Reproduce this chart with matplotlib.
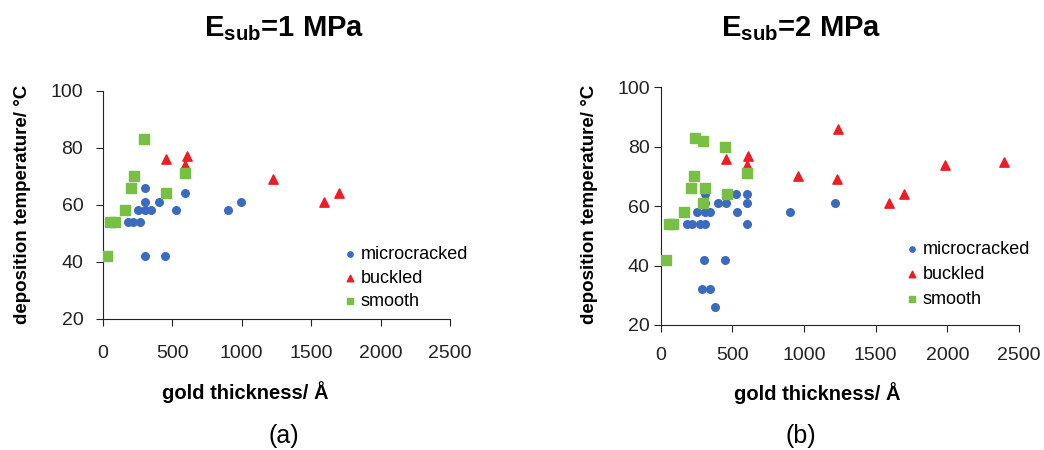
import matplotlib
matplotlib.use("Agg")
import matplotlib.pyplot as plt

plt.rcParams['font.family'] = ['Liberation Sans', 'DejaVu Sans']
plt.rcParams['mathtext.fontset'] = 'custom'
plt.rcParams['mathtext.bf'] = 'Liberation Sans:bold'
plt.rcParams['mathtext.rm'] = 'Liberation Sans'

# --- dados: E_sub = 1 MPa ---
micro1_x = [185, 216, 268, 252, 305, 348, 305, 305, 403, 525, 595, 305, 448, 904, 993]
micro1_y = [54, 54, 54, 58, 58, 58, 61, 66, 61, 58, 64, 42, 42, 58, 61]
buck1_x = [456, 604, 595, 1223, 1595, 1698]
buck1_y = [76, 77, 74, 69, 61, 64]
smooth1_x = [29, 55, 89, 158, 206, 225, 297, 456, 595]
smooth1_y = [42, 54, 54, 58, 66, 70, 83, 64, 71]

# --- dados: E_sub = 2 MPa ---
micro2_x = [181, 216, 274, 309, 251, 309, 344, 309, 309, 309, 402, 456, 523, 530,
            600, 600, 600, 305, 446, 286, 344, 379, 902, 1214]
micro2_y = [54, 54, 54, 54, 58, 58, 58, 61, 64, 66, 61, 61, 64, 58,
            64, 61, 54, 42, 42, 32, 32, 26, 58, 61]
buck2_x = [456, 607, 600, 960, 1228, 1240, 1593, 1700, 1984, 2395]
buck2_y = [76, 77, 74, 70, 69, 86, 61, 64, 74, 75]
smooth2_x = [37, 60, 88, 163, 209, 233, 240, 298, 309, 293, 451, 460, 600]
smooth2_y = [42, 54, 54, 58, 66, 70, 83, 82, 66, 61, 80, 64, 71]

xticks = [0, 500, 1000, 1500, 2000, 2500]
yticks = [20, 40, 60, 80, 100]

AZUL = '#3a6bc0'
VERMELHO = '#ee1c24'
VERDE = '#77c043'

fig = plt.figure(figsize=(10.44, 4.5), dpi=100)
ax1 = fig.add_axes([0.0984, 0.2918, 0.3327, 0.5067])
ax2 = fig.add_axes([0.6329, 0.2778, 0.3432, 0.5282])

# (eixo, dados..., posição da legenda, espaçamento, pad x, pad y)
paineis = [
    (ax1, micro1_x, micro1_y, buck1_x, buck1_y, smooth1_x, smooth1_y, (0.665, 0.35), 0.36, 14, 9),
    (ax2, micro2_x, micro2_y, buck2_x, buck2_y, smooth2_x, smooth2_y, (0.655, 0.385), 0.45, 11, 3),
]

for ax, mx, my, bx, by, sx, sy, leg_pos, espaco, padx, pady in paineis:
    ax.scatter(mx, my, s=30, marker='o', color=AZUL, label='microcracked', zorder=3)
    ax.scatter(bx, by, s=45, marker='^', color=VERMELHO, label='buckled', zorder=3)
    ax.scatter(sx, sy, s=45, marker='s', color=VERDE, label='smooth', zorder=3)
    ax.set_xlim(0, 2500)
    ax.set_ylim(20, 100)
    ax.set_xticks(xticks)
    ax.set_yticks(yticks)
    ax.spines['top'].set_visible(False)
    ax.spines['right'].set_visible(False)
    ax.spines['left'].set_color('#222222')
    ax.spines['bottom'].set_color('#222222')
    ax.tick_params(direction='out', length=5, labelsize=14, colors='#222222')
    ax.tick_params(axis='x', pad=padx)
    ax.tick_params(axis='y', pad=pady)
    ax.legend(loc='upper left', bbox_to_anchor=leg_pos, bbox_transform=ax.transAxes,
              frameon=False, fontsize=13, handletextpad=0.1, labelspacing=espaco,
              borderaxespad=0, markerscale=0.7, handlelength=1.0)

# títulos
fig.text(0.272, 0.936, r'$\mathbf{E_{sub}}$=1 MPa', ha='center', va='center',
         fontsize=21, fontweight='bold')
fig.text(0.767, 0.936, r'$\mathbf{E_{sub}}$=2 MPa', ha='center', va='center',
         fontsize=21, fontweight='bold')

# rótulos dos eixos
fig.text(0.235, 0.128, 'gold thickness/ Å', ha='center', va='center',
         fontsize=14.5, fontweight='bold')
fig.text(0.783, 0.126, 'gold thickness/ Å', ha='center', va='center',
         fontsize=14.5, fontweight='bold')
fig.text(0.022, 0.545, 'deposition temperature/ °C', ha='center', va='center',
         rotation=90, fontsize=13.5, fontweight='bold')
fig.text(0.565, 0.545, 'deposition temperature/ °C', ha='center', va='center',
         rotation=90, fontsize=13.5, fontweight='bold')

fig.text(0.272, 0.032, '(a)', ha='center', va='center', fontsize=18)
fig.text(0.767, 0.032, '(b)', ha='center', va='center', fontsize=18)

plt.savefig('out.png', dpi=100)
